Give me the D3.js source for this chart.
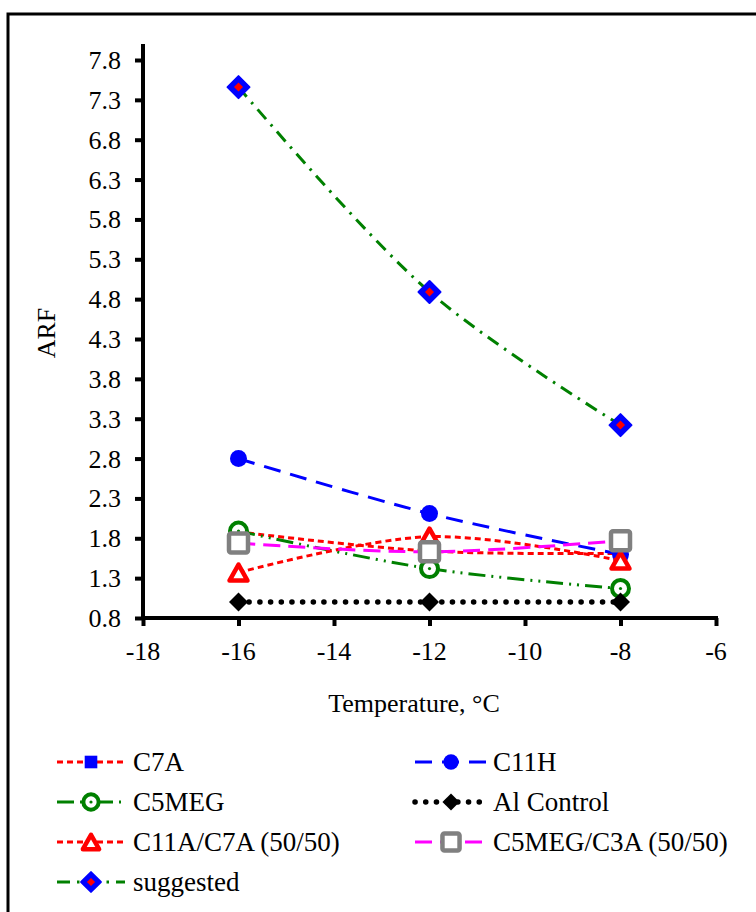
<!DOCTYPE html>
<html>
<head>
<meta charset="utf-8">
<script src="https://cdn.jsdelivr.net/npm/d3@7"></script>
<style>
  body { margin: 0; background: #fff; }
  svg text { font-family: "Liberation Serif", "Times New Roman", serif; fill: #000; }
</style>
</head>
<body>
<svg id="svg1" width="756" height="912"></svg>
<script>
// data
var temps = [-16, -12, -8];
var c7a = [1.88, 1.64, 1.61];
var c11h = [2.80, 2.11, 1.60];
var c5meg = [1.89, 1.42, 1.17];
var alControl = [1.0, 1.0, 1.0];
var c11aC7a = [1.37, 1.82, 1.52];
var c5megC3a = [1.74, 1.63, 1.77];
var suggested = [7.46, 4.89, 3.22];
var xTicks = [-18, -16, -14, -12, -10, -8, -6];
var yTicks = [0.8, 1.3, 1.8, 2.3, 2.8, 3.3, 3.8, 4.3, 4.8, 5.3, 5.8, 6.3, 6.8, 7.3, 7.8];

var series = [
  {name: "C7A", values: c7a, color: "#ff0000", dash: "6,4", marker: "square"},
  {name: "C11H", values: c11h, color: "#0000ff", dash: "17,10", marker: "circle"},
  {name: "C5MEG", values: c5meg, color: "#008000", dash: "17,6,2,6,2,6", marker: "ring"},
  {name: "Al Control", values: alControl, color: "#000000", dash: "0.1,10.6", marker: "diamond"},
  {name: "C11A/C7A (50/50)", values: c11aC7a, color: "#ff0000", dash: "6,4", marker: "triangle"},
  {name: "C5MEG/C3A (50/50)", values: c5megC3a, color: "#ff00ff", dash: "17,8", marker: "graysquare"},
  {name: "suggested", values: suggested, color: "#008000", dash: "13,7,2.5,7", marker: "bigdiamond"}
];

var svg = d3.select("#svg1");

// outer frame (only left and top visible)
svg.append("rect")
  .attr("x", 8).attr("y", 14)
  .attr("width", 800).attr("height", 950)
  .attr("fill", "none").attr("stroke", "#000").attr("stroke-width", 3);

var x = d3.scaleLinear().domain([-18, -6]).range([143, 716]);
var y = d3.scaleLinear().domain([0.8, 7.8]).range([618, 60]);
var yTop = y(8.0);

// axes (lines and ticks from d3, labels drawn below)
var yAxis = svg.append("g")
  .attr("transform", "translate(" + x(-18) + ",0)")
  .call(d3.axisLeft(y).tickValues(yTicks).tickFormat("").tickSize(8));
yAxis.select(".domain").attr("d", "M0," + yTop + "V" + y(0.8)).attr("stroke-width", 4);

var xAxis = svg.append("g")
  .attr("transform", "translate(0," + y(0.8) + ")")
  .call(d3.axisBottom(x).tickValues(xTicks).tickFormat("").tickSize(8));
xAxis.select(".domain").attr("d", "M" + (x(-18) - 2) + ",0H" + (x(-6) + 2)).attr("stroke-width", 4);

svg.selectAll(".tick line").attr("stroke-width", 4);

svg.append("g").selectAll("text")
  .data(yTicks)
  .enter().append("text")
    .attr("x", x(-18) - 22)
    .attr("y", function(d) { return y(d) + 9; })
    .attr("text-anchor", "end")
    .style("font-size", "26px")
    .text(function(d) { return d.toFixed(1); });

svg.append("g").selectAll("text")
  .data(xTicks)
  .enter().append("text")
    .attr("x", function(d) { return x(d); })
    .attr("y", y(0.8) + 42)
    .attr("text-anchor", "middle")
    .style("font-size", "26px")
    .text(function(d) { return d; });

svg.append("text")
  .attr("transform", "translate(55,333) rotate(-90)")
  .attr("text-anchor", "middle")
  .style("font-size", "26px")
  .text("ARF");

svg.append("text")
  .attr("x", 414).attr("y", 712)
  .attr("text-anchor", "middle")
  .style("font-size", "26px")
  .text("Temperature, \u00b0C");

// markers
function drawMarker(g, type, cx, cy, s) {
  s = s || 1;
  if (type === "square") {
    g.append("rect").attr("x", cx - 7 * s).attr("y", cy - 7 * s).attr("width", 14 * s).attr("height", 14 * s)
      .attr("fill", "#0000ff");
  } else if (type === "circle") {
    g.append("circle").attr("cx", cx).attr("cy", cy).attr("r", 8.5 * s).attr("fill", "#0000ff");
  } else if (type === "ring") {
    g.append("circle").attr("cx", cx).attr("cy", cy).attr("r", 8.5 * s)
      .attr("fill", "#fff").attr("stroke", "#008000").attr("stroke-width", 4);
    g.append("circle").attr("cx", cx).attr("cy", cy).attr("r", 1.6).attr("fill", "#008000");
  } else if (type === "diamond") {
    var d = 9.5 * s;
    g.append("path").attr("d", "M" + cx + "," + (cy - d) + "L" + (cx + d) + "," + cy + "L" + cx + "," + (cy + d) + "L" + (cx - d) + "," + cy + "Z")
      .attr("fill", "#000");
  } else if (type === "triangle") {
    var h = 8 * s;
    g.append("path").attr("d", "M" + cx + "," + (cy - h) + "L" + (cx + 9 * s) + "," + (cy + h) + "L" + (cx - 9 * s) + "," + (cy + h) + "Z")
      .attr("fill", "#fff").attr("stroke", "#ff0000").attr("stroke-width", 4.5).attr("stroke-linejoin", "round");
  } else if (type === "graysquare") {
    g.append("rect").attr("x", cx - 9.5 * s).attr("y", cy - 9.5 * s).attr("width", 19 * s).attr("height", 19 * s)
      .attr("rx", 2)
      .attr("fill", "#fff").attr("stroke", "#808080").attr("stroke-width", 4.5);
  } else if (type === "bigdiamond") {
    var b = 11 * s, r = 4.5 * s;
    g.append("path").attr("d", "M" + cx + "," + (cy - b) + "L" + (cx + b) + "," + cy + "L" + cx + "," + (cy + b) + "L" + (cx - b) + "," + cy + "Z")
      .attr("fill", "#0000ff").attr("stroke", "#0000ff").attr("stroke-width", 2).attr("stroke-linejoin", "round");
    g.append("path").attr("d", "M" + cx + "," + (cy - r) + "L" + (cx + r) + "," + cy + "L" + cx + "," + (cy + r) + "L" + (cx - r) + "," + cy + "Z")
      .attr("fill", "#ff0000");
  }
}

var line = d3.line()
  .x(function(d, i) { return x(temps[i]); })
  .y(function(d) { return y(d); })
  .curve(d3.curveCatmullRom.alpha(0.5));

var plot = svg.append("g");
series.forEach(function(s) {
  var isDots = s.name === "Al Control";
  plot.append("path")
    .attr("d", line(s.values))
    .attr("fill", "none")
    .attr("stroke", s.color)
    .attr("stroke-width", isDots ? 5.5 : 3)
    .attr("stroke-linecap", isDots ? "round" : "butt")
    .attr("stroke-dasharray", s.dash);
  s.values.forEach(function(v, i) {
    drawMarker(plot, s.marker, x(temps[i]), y(v));
  });
});

// legend
var legend = svg.append("g");
series.forEach(function(s, i) {
  var col = i % 2, row = Math.floor(i / 2);
  var x0 = col === 0 ? 57 : 415, x1 = col === 0 ? 125 : 487;
  var ly = 762 + row * 40;
  var isDots = s.name === "Al Control";
  legend.append("line")
    .attr("x1", x0).attr("x2", x1).attr("y1", ly).attr("y2", ly)
    .attr("stroke", s.color)
    .attr("stroke-width", isDots ? 5.5 : 3)
    .attr("stroke-linecap", isDots ? "round" : "butt")
    .attr("stroke-dasharray", s.dash);
  drawMarker(legend, s.marker, (x0 + x1) / 2, ly, 0.9);
  legend.append("text")
    .attr("x", col === 0 ? 133 : 493).attr("y", ly + 9)
    .style("font-size", "27px")
    .text(s.name);
});
</script>
</body>
</html>
